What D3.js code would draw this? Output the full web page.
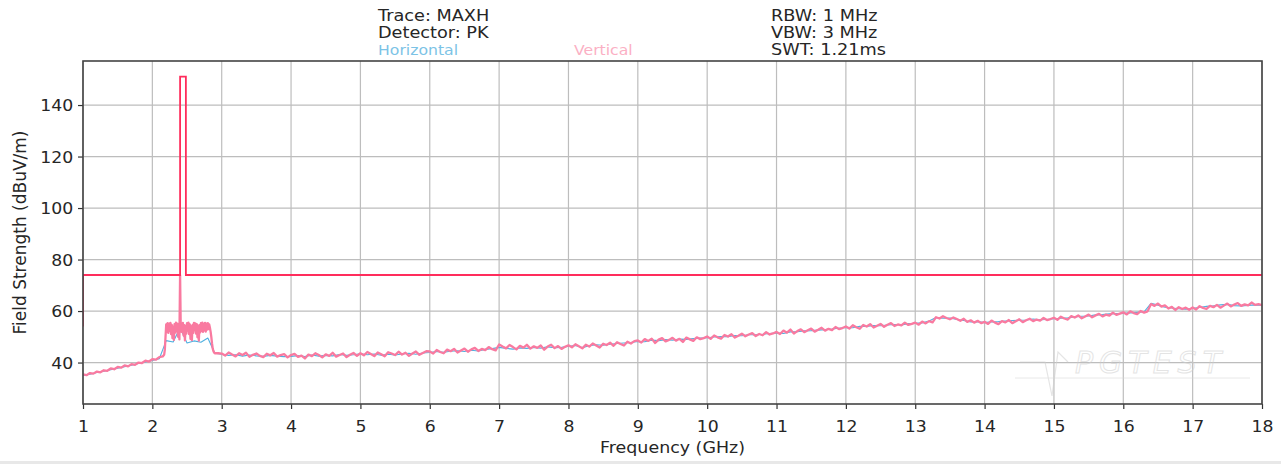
<!DOCTYPE html>
<html>
<head>
<meta charset="utf-8">
<script src="https://cdn.jsdelivr.net/npm/d3@7"></script>
<style>
  html, body { margin: 0; padding: 0; background: #ffffff; }
  svg { display: block; }
  text { font-family: "DejaVu Sans", sans-serif; fill: #262626; }
</style>
</head>
<body>
<script>
// ---------------- data ----------------
const xTicks = [1,2,3,4,5,6,7,8,9,10,11,12,13,14,15,16,17,18];
const yTicks = [40,60,80,100,120,140];
const headerLeft = ["Trace: MAXH", "Detector: PK"];
const headerRight = ["RBW: 1 MHz", "VBW: 3 MHz", "SWT: 1.21ms"];
const seriesNames = ["Horizontal", "Vertical"];

// Limit line (GHz, dBuV/m)
const limitFreq = [1, 1, 2.4, 2.4, 2.4835, 2.4835, 18];
const limitVal  = [54, 74, 74, 151, 151, 74, 74];

// Vertical polarisation sweep: 1.00 .. 18.00 GHz, 0.05 GHz per point
// (null where the finer 2.4 GHz band sweep below takes over)
const vStart = 1, vStep = 0.05;
const vertical = [
  // 1.00 - 2.15
  35.4,35.1,35.9,35.7,36.5,36.2,37.0,36.8,37.7,37.4,38.3,38.0,38.9,38.5,39.4,39.1,40.0,39.8,40.7,40.4,41.3,41.1,42.1,42.4,
  // 2.20 - 2.90 (see band sweep)
  null,null,null,null,null,null,null,null,null,null,null,null,null,null,null,
  // 2.95
  43.6,
  // 3.00 - 3.95
  43.5,42.7,43.9,43.1,42.4,43.6,42.9,43.8,42.2,43.0,43.5,42.6,42.1,43.4,42.8,43.7,42.3,42.9,43.3,42.0,
  // 4.00 - 4.95
  42.9,43.4,42.2,42.7,41.6,43.1,42.5,43.6,42.9,42.0,43.2,42.6,43.8,42.3,42.9,43.5,42.1,43.0,43.7,42.6,
  // 5.00 - 5.95
  43.6,42.8,44.1,43.3,42.5,43.9,43.2,42.4,44.0,43.5,42.9,44.2,43.1,43.8,42.6,43.5,44.3,43.0,43.7,44.4,
  // 6.00 - 6.95
  44.3,43.5,44.9,44.1,43.6,45.0,44.4,45.3,43.9,44.7,45.4,44.2,45.1,45.7,44.5,45.3,44.8,46.0,45.2,44.7,
  // 7.00 - 7.95
  47.0,46.2,45.5,46.8,46.0,45.1,46.5,45.8,46.9,45.4,46.3,45.7,46.6,45.0,46.2,46.9,45.6,46.4,45.3,46.1,
  // 8.00 - 8.95
  46.7,45.9,47.1,46.3,45.5,46.9,46.2,47.4,46.6,45.8,47.3,46.8,47.7,46.5,47.9,47.2,46.6,48.1,47.4,48.3,
  // 9.00 - 9.95
  48.6,47.8,49.1,48.4,49.3,47.6,48.9,49.5,48.2,48.8,49.6,48.5,49.2,48.0,49.7,49.0,48.4,49.8,49.1,49.5,
  // 10.00 - 10.95
  50.1,49.2,50.5,49.8,49.3,50.7,50.1,51.0,49.7,50.4,51.2,50.2,50.9,51.4,50.3,51.1,50.6,51.8,50.9,51.3,
  // 11.00 - 11.95
  51.9,51.1,52.4,51.6,52.8,51.3,52.2,52.9,51.8,52.5,53.2,52.0,52.7,53.5,52.4,53.1,52.6,53.8,53.0,53.4,
  // 12.00 - 12.95
  54.0,53.2,54.5,53.7,53.1,54.6,54.0,54.9,53.6,54.3,55.0,53.9,54.7,55.3,54.2,54.8,54.4,55.5,54.6,55.0,
  // 13.00 - 13.95
  55.5,54.7,55.9,55.2,56.1,55.6,57.6,57.1,58.0,57.3,56.8,57.5,56.9,56.2,57.0,55.8,56.4,55.5,56.2,55.3,
  // 14.00 - 14.95
  55.8,55.0,56.3,55.5,54.9,56.1,55.6,56.5,55.3,56.0,56.8,55.7,56.4,57.0,56.1,56.7,56.3,57.3,56.5,56.9,
  // 15.00 - 15.95
  57.4,56.6,57.8,57.1,56.7,58.0,57.5,58.3,57.2,57.9,58.6,57.6,58.3,58.9,57.9,58.6,58.2,59.4,58.5,59.0,
  // 16.00 - 16.95
  59.5,58.7,59.9,59.2,58.8,60.0,59.4,59.9,62.7,62.0,62.9,61.7,62.2,61.0,61.6,60.4,61.5,60.8,61.3,60.5,
  // 17.00 - 17.95
  61.4,60.6,61.9,61.2,60.8,62.0,61.5,62.4,61.3,62.1,62.9,61.8,62.5,63.1,62.0,62.6,62.2,63.3,62.4,62.7,
  // 18.00
  62.3
];

// Vertical polarisation, 2.4 GHz band detail: 2.17 .. 2.90 GHz, 0.01 GHz per point
const bandStart = 2.17, bandStep = 0.01;
const verticalBand = [
  43.0,45.0,50.0,54.8,52.0,55.3,51.5,55.0,52.3,55.4,   // 2.17-2.26
  51.0,54.6,49.5,53.8,48.8,54.9,51.6,55.5,52.2,55.1,   // 2.27-2.36
  50.0,54.7,49.0,74.0,52.0,55.2,51.8,55.4,50.5,54.5,   // 2.37-2.46
  48.6,54.2,51.2,55.3,52.4,55.5,51.0,54.8,49.2,54.0,   // 2.47-2.56
  48.7,54.6,51.5,55.4,52.6,55.2,51.2,54.9,49.8,54.3,   // 2.57-2.66
  48.5,54.5,51.7,55.3,52.3,55.5,51.9,55.0,52.5,55.4,   // 2.67-2.76
  52.0,55.1,52.8,55.3,53.0,54.8,53.5,52.0,50.0,47.5,   // 2.77-2.86
  45.5,44.5,43.9,43.6                                  // 2.87-2.90
];

// Horizontal polarisation sweep: 1.0 .. 18.0 GHz, 0.1 GHz per point
const hStart = 1, hStep = 0.1;
const horizontal = [
  35.0,35.5,36.1,36.6,37.2,37.8,38.4,39.0,39.6,40.2,
  40.8,41.5,48.5,48.0,53.5,47.6,48.4,47.9,49.5,43.6,
  43.2,42.8,43.0,42.5,42.9,42.6,42.4,42.8,42.5,42.3,
  42.4,42.7,42.3,42.9,42.5,42.8,42.6,43.1,42.8,43.0,
  43.4,43.0,43.3,42.8,43.2,42.9,43.3,43.6,43.2,43.7,
  43.9,44.3,44.0,44.4,44.6,44.3,44.8,44.5,45.1,45.4,
  45.9,45.5,45.2,45.7,45.5,45.9,45.6,46.1,45.8,45.9,
  46.3,46.6,45.8,46.5,46.9,46.7,47.1,47.4,47.6,47.8,
  48.2,48.1,48.7,48.5,48.9,48.7,49.1,49.0,49.3,49.5,
  49.6,49.9,50.1,50.0,50.5,50.4,50.8,50.8,51.0,51.3,
  51.5,51.3,51.9,52.0,52.3,52.4,52.6,52.8,53.0,53.3,
  53.6,53.5,54.1,54.0,54.4,54.3,54.6,54.8,54.6,55.1,
  55.2,55.4,56.1,57.5,57.2,57.3,56.7,56.3,55.8,55.9,
  55.5,55.8,55.9,56.1,56.3,56.4,56.5,56.9,56.6,56.7,
  57.0,57.2,57.4,57.7,58.0,58.1,58.5,58.6,58.9,59.0,
  59.1,59.3,59.5,59.7,63.0,62.3,61.5,61.2,60.9,60.7,
  61.1,61.4,61.8,62.0,62.4,62.6,62.1,62.0,62.2,62.4,
  62.3
];

// ---------------- layout ----------------
const W = 1281, H = 464;
const M = { left: 83, right: 1262, top: 61, bottom: 404 };
const colors = { limit: "#ff2d5c", vertical: "#f97aa0", horizontal: "#4fb0e0", grid: "#bdbdbd", spine: "#444444" };

const svg = d3.select("body").append("svg").attr("width", W).attr("height", H);
svg.append("rect").attr("x", 0).attr("y", 0).attr("width", W).attr("height", H).attr("fill", "#ffffff");
svg.append("rect").attr("x", 0).attr("y", 461).attr("width", W).attr("height", 3).attr("fill", "#e8e8e8");

const x = d3.scaleLinear().domain([1, 18]).range([M.left, M.right]);
const y = d3.scaleLinear().domain([23.9, 157.1]).range([M.bottom, M.top]);

// grid
const grid = svg.append("g");
grid.selectAll(".gx").data(xTicks).join("line")
  .attr("x1", d => x(d)).attr("x2", d => x(d)).attr("y1", M.top).attr("y2", M.bottom)
  .attr("stroke", colors.grid).attr("stroke-width", 1.2);
grid.selectAll(".gy").data(yTicks).join("line")
  .attr("y1", d => y(d)).attr("y2", d => y(d)).attr("x1", M.left).attr("x2", M.right)
  .attr("stroke", colors.grid).attr("stroke-width", 1.2);

// watermark
const wm = svg.append("g").attr("opacity", 0.55);
wm.append("text").attr("x", 1075).attr("y", 373).text("PGTEST")
  .attr("font-size", 30).attr("font-style", "italic").attr("letter-spacing", 6)
  .style("fill", "none").attr("stroke", "#cfcfcf").attr("stroke-width", 1);
wm.append("line").attr("x1", 1015).attr("x2", 1250).attr("y1", 378).attr("y2", 378)
  .attr("stroke", "#d8d8d8").attr("stroke-width", 1);
wm.append("path").attr("d", "M1020,362 L1045,362 L1052,396 L1058,352 L1068,362")
  .attr("fill", "none").attr("stroke", "#d0d0d0").attr("stroke-width", 1.2);

// clip
svg.append("clipPath").attr("id", "plotclip").append("rect")
  .attr("x", M.left).attr("y", M.top).attr("width", M.right - M.left).attr("height", M.bottom - M.top);
const plot = svg.append("g").attr("clip-path", "url(#plotclip)");

const line = d3.line().x(d => x(d[0])).y(d => y(d[1]));
const hPts = horizontal.map((v, i) => [hStart + i * hStep, v]);
const vPts = vertical.map((v, i) => [vStart + i * vStep, v]).filter(d => d[1] !== null)
  .concat(verticalBand.map((v, i) => [bandStart + i * bandStep, v]))
  .sort((a, b) => a[0] - b[0]);
const lPts = limitFreq.map((f, i) => [f, limitVal[i]]);

plot.append("path").datum(hPts).attr("d", line).attr("fill", "none")
  .attr("stroke", colors.horizontal).attr("stroke-width", 1.1).attr("stroke-linejoin", "round");
plot.append("path").datum(vPts).attr("d", line).attr("fill", "none")
  .attr("stroke", colors.vertical).attr("stroke-width", 2.3).attr("stroke-linejoin", "round");
plot.append("path").datum(lPts).attr("d", line).attr("fill", "none")
  .attr("stroke", colors.limit).attr("stroke-width", 1.8);

// axes
const xAxis = d3.axisBottom(x).tickValues(xTicks).tickSize(5).tickPadding(4).tickFormat(d3.format("d"));
const yAxis = d3.axisLeft(y).tickValues(yTicks).tickSize(5).tickPadding(4).tickFormat(d3.format("d"));
const gx = svg.append("g").attr("transform", `translate(0,${M.bottom})`).call(xAxis);
const gy = svg.append("g").attr("transform", `translate(${M.left},0)`).call(yAxis);
[gx, gy].forEach(g => {
  g.select(".domain").remove();
  g.selectAll(".tick line").attr("stroke", "#333").attr("stroke-width", 1.2);
  g.selectAll(".tick text").attr("font-size", 16).style("fill", "#262626")
    .attr("font-family", "DejaVu Sans, sans-serif");
});
gx.selectAll(".tick text").attr("dy", null).attr("y", 28)
  .attr("transform", "scale(1.08,1)");
gy.selectAll(".tick text").attr("dy", "0.36em").attr("x", -9)
  .attr("transform", "scale(1.08,1)");

// spines
svg.append("rect").attr("x", M.left).attr("y", M.top)
  .attr("width", M.right - M.left).attr("height", M.bottom - M.top)
  .attr("fill", "none").attr("stroke", colors.spine).attr("stroke-width", 1.6);

// text helper
function label(txt, px, py, size, sx, anchor, color, rot) {
  const t = svg.append("text")
    .attr("transform", `translate(${px},${py})` + (rot ? ` rotate(${rot})` : "") + ` scale(${sx},1)`)
    .attr("font-size", size).attr("text-anchor", anchor || "start").text(txt);
  if (color) t.style("fill", color);
  return t;
}

// axis titles
label("Frequency (GHz)", (M.left + M.right) / 2, 453, 16, 1.09, "middle");
label("Field Strength (dBuV/m)", 26, (M.top + M.bottom) / 2, 17, 1.0, "middle", null, -90);

// header
headerLeft.forEach((t, i) => label(t, 378, 21 + i * 17, 15, 1.18, "start"));
headerRight.forEach((t, i) => label(t, 771, 21 + i * 17, 15, 1.18, "start"));
label(seriesNames[0], 378, 55, 14, 1.12, "start", "#7cc3e6");
label(seriesNames[1], 574, 55, 14, 1.12, "start", "#fbb0c4");
</script>
</body>
</html>
